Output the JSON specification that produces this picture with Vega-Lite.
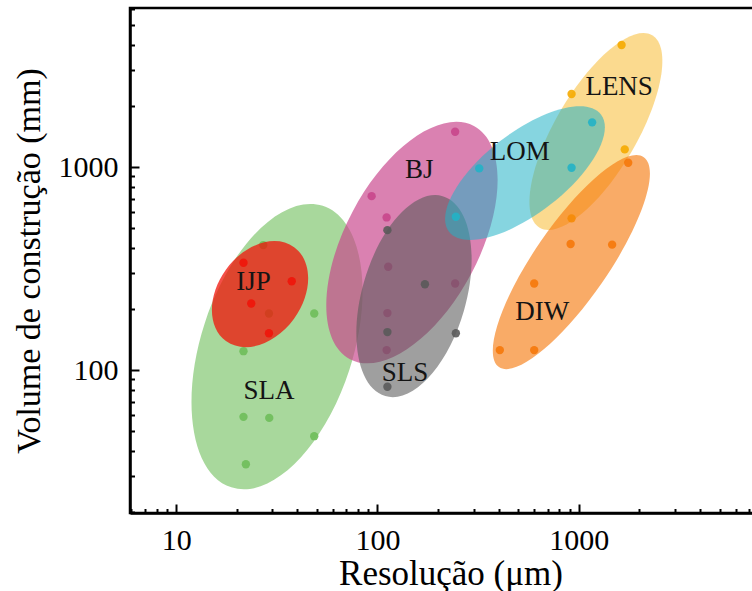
{
  "$schema": "https://vega.github.io/schema/vega-lite/v6.json",
  "autosize": "none",
  "padding": {"left": 130, "top": 8, "right": 0, "bottom": 80},
  "width": 641,
  "height": 505,
  "background": "white",
  "config": {
    "view": {"stroke": "black", "strokeWidth": 2.5},
    "axis": {
      "grid": false,
      "domainColor": "black",
      "domainWidth": 2.5,
      "tickColor": "black",
      "labelColor": "black",
      "titleColor": "black",
      "labelFont": "Liberation Serif",
      "titleFont": "Liberation Serif",
      "labelFontSize": 30,
      "titleFontSize": 34,
      "titleFontWeight": "normal"
    }
  },
  "datasets": {
    "pts": [
      {"tech": "SLA", "kind": "region", "x": 31.7, "y": 130.6},
      {"tech": "SLA", "kind": "sample", "x": 27.1, "y": 413},
      {"tech": "SLA", "kind": "sample", "x": 28.9, "y": 190},
      {"tech": "SLA", "kind": "sample", "x": 48.5, "y": 190},
      {"tech": "SLA", "kind": "sample", "x": 21.6, "y": 124},
      {"tech": "SLA", "kind": "sample", "x": 21.6, "y": 58.9},
      {"tech": "SLA", "kind": "sample", "x": 29.0, "y": 58.2},
      {"tech": "SLA", "kind": "sample", "x": 48.5, "y": 47.3},
      {"tech": "SLA", "kind": "sample", "x": 22.2, "y": 34.4},
      {"tech": "IJP", "kind": "region", "x": 26.1, "y": 236.8},
      {"tech": "IJP", "kind": "sample", "x": 21.6, "y": 338},
      {"tech": "IJP", "kind": "sample", "x": 37.5, "y": 274},
      {"tech": "IJP", "kind": "sample", "x": 23.6, "y": 213},
      {"tech": "IJP", "kind": "sample", "x": 28.9, "y": 152},
      {"tech": "BJ", "kind": "region", "x": 148.3, "y": 424.6},
      {"tech": "BJ", "kind": "sample", "x": 243, "y": 1493},
      {"tech": "BJ", "kind": "sample", "x": 93.5, "y": 719},
      {"tech": "BJ", "kind": "sample", "x": 111, "y": 565},
      {"tech": "BJ", "kind": "sample", "x": 113, "y": 323},
      {"tech": "BJ", "kind": "sample", "x": 243, "y": 267},
      {"tech": "BJ", "kind": "sample", "x": 112, "y": 191},
      {"tech": "BJ", "kind": "sample", "x": 111, "y": 125.5},
      {"tech": "SLS", "kind": "region", "x": 151.8, "y": 231.5},
      {"tech": "SLS", "kind": "sample", "x": 112, "y": 489},
      {"tech": "SLS", "kind": "sample", "x": 172, "y": 265},
      {"tech": "SLS", "kind": "sample", "x": 112, "y": 154},
      {"tech": "SLS", "kind": "sample", "x": 245, "y": 152},
      {"tech": "SLS", "kind": "sample", "x": 112, "y": 82.8},
      {"tech": "LENS", "kind": "region", "x": 1215, "y": 1496},
      {"tech": "LENS", "kind": "sample", "x": 1630, "y": 3991},
      {"tech": "LENS", "kind": "sample", "x": 920, "y": 2290},
      {"tech": "LENS", "kind": "sample", "x": 1690, "y": 1222},
      {"tech": "LENS", "kind": "sample", "x": 920, "y": 559},
      {"tech": "LOM", "kind": "region", "x": 540, "y": 934},
      {"tech": "LOM", "kind": "sample", "x": 320, "y": 985},
      {"tech": "LOM", "kind": "sample", "x": 1164, "y": 1660},
      {"tech": "LOM", "kind": "sample", "x": 920, "y": 992},
      {"tech": "LOM", "kind": "sample", "x": 245, "y": 569},
      {"tech": "DIW", "kind": "region", "x": 918, "y": 340.5},
      {"tech": "DIW", "kind": "sample", "x": 1758, "y": 1050},
      {"tech": "DIW", "kind": "sample", "x": 910, "y": 418},
      {"tech": "DIW", "kind": "sample", "x": 1463, "y": 415},
      {"tech": "DIW", "kind": "sample", "x": 600, "y": 267},
      {"tech": "DIW", "kind": "sample", "x": 405, "y": 125.5},
      {"tech": "DIW", "kind": "sample", "x": 600, "y": 125.5}
    ],
    "labels": [
      {"tech": "IJP", "x": 24.2, "y": 272},
      {"tech": "SLA", "x": 28.9, "y": 79},
      {"tech": "BJ", "x": 161, "y": 966},
      {"tech": "SLS", "x": 137, "y": 96.3},
      {"tech": "LOM", "x": 509, "y": 1181},
      {"tech": "LENS", "x": 1585, "y": 2473},
      {"tech": "DIW", "x": 658, "y": 194}
    ]
  },
  "layer": [
    {
      "data": {"name": "pts"},
      "mark": {"type": "point", "filled": true, "strokeWidth": 0},
      "encoding": {
        "x": {
          "field": "x", "type": "quantitative",
          "scale": {"type": "log", "domain": [5.9, 9000], "nice": false},
          "axis": {
            "orient": "bottom",
            "values": [10, 100, 1000],
            "format": "d",
            "tickSize": -9,
            "tickWidth": 2,
            "labelPadding": 21,
            "title": "Resolução (μm)",
            "titleFontSize": 35,
            "titlePadding": 1
          }
        },
        "y": {
          "field": "y", "type": "quantitative",
          "scale": {"type": "log", "domain": [19.8, 6070], "nice": false},
          "axis": {
            "orient": "left",
            "values": [100, 1000],
            "format": "d",
            "tickSize": -9,
            "tickWidth": 2,
            "labelPadding": 21,
            "title": "Volume de construção (mm)",
            "titlePadding": 12
          }
        },
        "shape": {
          "condition": {"test": "datum.kind === 'sample'", "value": "circle"},
          "field": "tech", "type": "nominal", "legend": null,
          "scale": {
            "domain": ["SLA", "IJP", "BJ", "SLS", "LENS", "LOM", "DIW"],
            "range": [
              "M 0.4573 -1.4076 A 1.48 0.76 -72 0 1 0.7228 0.2348 A 1.48 0.76 -72 0 1 -0.4573 1.4076 A 1.48 0.76 -72 0 1 -0.7228 -0.2348 A 1.48 0.76 -72 0 1 0.4573 -1.4076 Z",
              "M 0.3409 -0.4692 A 0.58 0.42 -54 0 1 0.3398 0.2469 A 0.58 0.42 -54 0 1 -0.3409 0.4692 A 0.58 0.42 -54 0 1 -0.3398 -0.2469 A 0.58 0.42 -54 0 1 0.3409 -0.4692 Z",
              "M 0.6197 -1.1655 A 1.32 0.67 -62 0 1 0.5915 0.3146 A 1.32 0.67 -62 0 1 -0.6197 1.1655 A 1.32 0.67 -62 0 1 -0.5915 -0.3146 A 1.32 0.67 -62 0 1 0.6197 -1.1655 Z",
              "M 0.2866 -0.9998 A 1.04 0.52 -74 0 1 0.4999 0.1433 A 1.04 0.52 -74 0 1 -0.2866 0.9998 A 1.04 0.52 -74 0 1 -0.4999 -0.1433 A 1.04 0.52 -74 0 1 0.2866 -0.9998 Z",
              "M 0.5625 -0.9627 A 1.115 0.41 -59.7 0 1 0.3540 0.2068 A 1.115 0.41 -59.7 0 1 -0.5625 0.9627 A 1.115 0.41 -59.7 0 1 -0.3540 -0.2068 A 1.115 0.41 -59.7 0 1 0.5625 -0.9627 Z",
              "M 0.7596 -0.5870 A 0.96 0.405 -37.7 0 1 0.2477 0.3204 A 0.96 0.405 -37.7 0 1 -0.7596 0.5870 A 0.96 0.405 -37.7 0 1 -0.2477 -0.3204 A 0.96 0.405 -37.7 0 1 0.7596 -0.5870 Z",
              "M 0.7240 -1.0495 A 1.275 0.37 -55.4 0 1 0.3045 0.2101 A 1.275 0.37 -55.4 0 1 -0.7240 1.0495 A 1.275 0.37 -55.4 0 1 -0.3045 -0.2101 A 1.275 0.37 -55.4 0 1 0.7240 -1.0495 Z"
            ]
          }
        },
        "size": {
          "condition": {"test": "datum.kind === 'sample'", "value": 70},
          "value": 40000
        },
        "color": {
          "field": "tech", "type": "nominal", "legend": null,
          "scale": {
            "domain": ["SLA", "IJP", "BJ", "SLS", "LENS", "LOM", "DIW"],
            "range": ["#6ebe5a", "#f0140a", "#c8468c", "#5a5a5a", "#f5aa00", "#22b3c6", "#f5780a"]
          }
        },
        "opacity": {
          "condition": [
            {"test": "datum.kind === 'sample'", "value": 0.9},
            {"test": "datum.tech === 'SLA'", "value": 0.6},
            {"test": "datum.tech === 'IJP'", "value": 0.75},
            {"test": "datum.tech === 'BJ'", "value": 0.68},
            {"test": "datum.tech === 'SLS'", "value": 0.58},
            {"test": "datum.tech === 'LENS'", "value": 0.44},
            {"test": "datum.tech === 'LOM'", "value": 0.55},
            {"test": "datum.tech === 'DIW'", "value": 0.62}
          ],
          "value": 0.6
        }
      }
    },
    {
      "data": {"name": "labels"},
      "mark": {"type": "text", "font": "Liberation Serif", "fontSize": 27, "color": "#141414", "align": "center", "baseline": "middle"},
      "encoding": {
        "x": {
          "field": "x", "type": "quantitative",
          "axis": {
            "orient": "bottom",
            "values": [6, 7, 8, 9, 20, 30, 40, 50, 60, 70, 80, 90, 200, 300, 400, 500, 600, 700, 800, 900, 2000, 3000, 4000, 5000, 6000, 7000, 8000],
            "labels": false, "domain": false, "title": null,
            "tickSize": -4.5, "tickWidth": 2
          }
        },
        "y": {
          "field": "y", "type": "quantitative",
          "axis": {
            "orient": "left",
            "values": [20, 30, 40, 50, 60, 70, 80, 90, 200, 300, 400, 500, 600, 700, 800, 900, 2000, 3000, 4000, 5000, 6000],
            "labels": false, "domain": false, "title": null,
            "tickSize": -4.5, "tickWidth": 2
          }
        },
        "text": {"field": "tech", "type": "nominal"}
      }
    }
  ],
  "resolve": {"axis": {"x": "independent", "y": "independent"}}
}
